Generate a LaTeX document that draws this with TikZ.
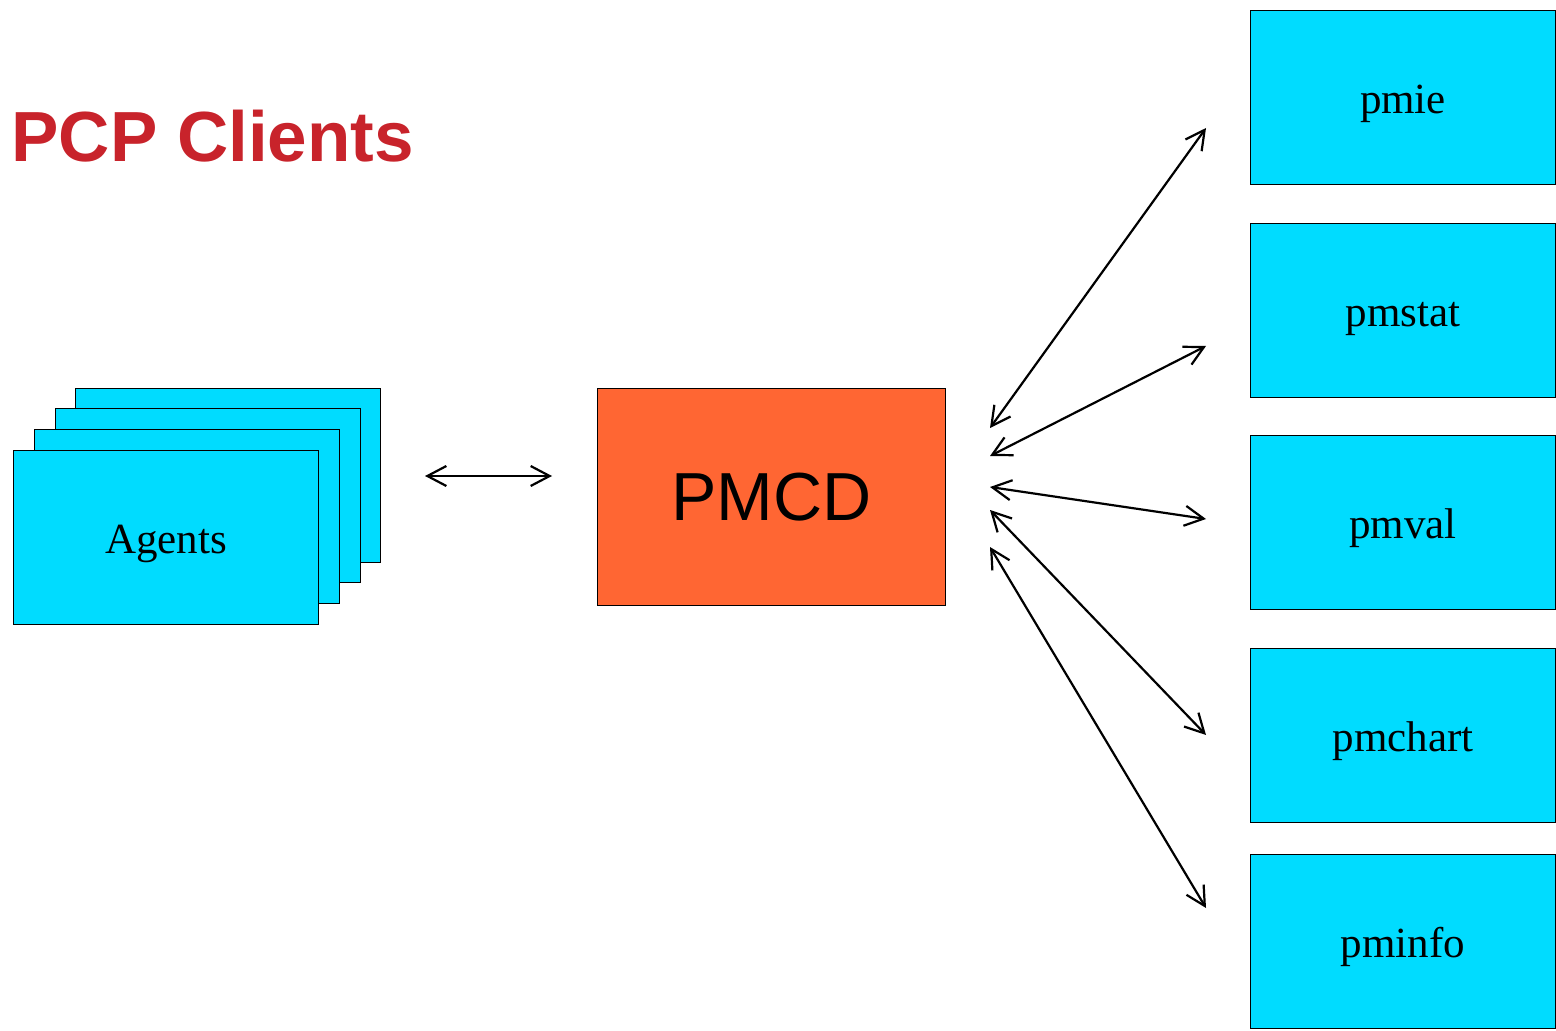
\documentclass[tikz,border=0pt]{standalone}
\usepackage{fontspec}
\setmainfont{Liberation Serif}
\newfontfamily\arialfont{Liberation Sans}
\usepackage{xcolor}
\usepackage{tikz}
\usetikzlibrary{arrows.meta, positioning, calc}

\definecolor{boxcyan}{HTML}{00DCFF}
\definecolor{pmcdorange}{HTML}{FF6633}
\definecolor{titlered}{HTML}{C8232B}

\begin{document}
\begin{tikzpicture}[
    x=0.5pt, y=-0.5pt,
    % Define styles for the nodes
    base_node/.style={rectangle, draw=black, line width=0.5pt, inner sep=0pt, anchor=north west, align=center},
    agent_node/.style={base_node, fill=boxcyan, minimum width=152.5pt, minimum height=87pt, text height=21pt, text depth=5pt, font=\fontsize{21.5}{24}\selectfont},
    client_node/.style={agent_node},
    pmcd_node/.style={base_node, fill=pmcdorange, minimum width=174pt, minimum height=108.5pt, font=\arialfont\fontsize{34}{38}\selectfont},
    title_node/.style={anchor=base west, inner sep=0pt, text=titlered, font=\arialfont\bfseries\fontsize{35.5}{40}\selectfont},
    % Style for arrows
    arrow/.style={{Straight Barb[length=9.5pt, width=10pt]}-{Straight Barb[length=9.5pt, width=10pt]}, line width=1.1pt}
]
    \useasboundingbox (0,0) rectangle (1556,1031);

    % =========================================================================
    % TITLE
    % =========================================================================
    \node (title) [title_node] at (11,162) {PCP Clients};

    % =========================================================================
    % AGENTS - stacked cards, back to front
    % =========================================================================
    \node (agent_back3) [agent_node] at (75,388) {};
    \node (agent_back2) [agent_node] at (55,408) {};
    \node (agent_back1) [agent_node] at (34,429) {};
    \node (agents) [agent_node] at (13,450) {Agents};

    % =========================================================================
    % PMCD
    % =========================================================================
    \node (pmcd) [pmcd_node] at (597,388) {PMCD};

    \coordinate (agents_end) at (425,476);
    \coordinate (pmcd_west_end) at (552,476);
    \draw [arrow] (agents_end) -- (pmcd_west_end);

    % =========================================================================
    % CLIENTS
    % =========================================================================
    \node (pmie) [client_node] at (1250,10) {pmie};
    \node (pmstat) [client_node] at (1250,223) {pmstat};
    \node (pmval) [client_node] at (1250,435) {pmval};
    \node (pmchart) [client_node] at (1250,648) {pmchart};
    \node (pminfo) [client_node] at (1250,854) {pminfo};

    % Free ends of the fan of connectors
    \coordinate (pmcd_ie) at (990,428);
    \coordinate (pmcd_stat) at (990,456);
    \coordinate (pmcd_val) at (990,487);
    \coordinate (pmcd_chart) at (990,510);
    \coordinate (pmcd_info) at (990,547);
    \coordinate (pmie_end) at (1206,128);
    \coordinate (pmstat_end) at (1206,346);
    \coordinate (pmval_end) at (1206,519);
    \coordinate (pmchart_end) at (1206,735);
    \coordinate (pminfo_end) at (1206,908);

    \draw [arrow] (pmcd_ie) -- (pmie_end);
    \draw [arrow] (pmcd_stat) -- (pmstat_end);
    \draw [arrow] (pmcd_val) -- (pmval_end);
    \draw [arrow] (pmcd_chart) -- (pmchart_end);
    \draw [arrow] (pmcd_info) -- (pminfo_end);

\end{tikzpicture}
\end{document}
